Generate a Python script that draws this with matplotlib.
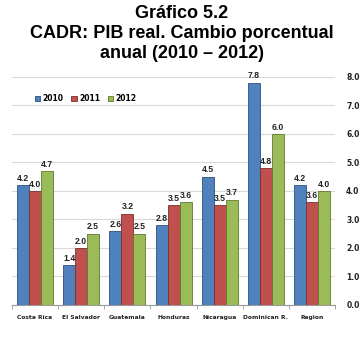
import matplotlib
matplotlib.use("Agg")
import matplotlib.pyplot as plt
import numpy as np

categories = ["Costa Rica", "El Salvador", "Guatemala", "Honduras", "Nicaragua", "Dominican R.", "Region"]
years = ["2010", "2011", "2012"]
v2010 = [4.2, 1.4, 2.6, 2.8, 4.5, 7.8, 4.2]
v2011 = [4.0, 2.0, 3.2, 3.5, 3.5, 4.8, 3.6]
v2012 = [4.7, 2.5, 2.5, 3.6, 3.7, 6.0, 4.0]
colors = ["#4F81BD", "#C0504D", "#9BBB59"]
edges = ["#2F4F7A", "#7A2F2D", "#5E7A2F"]

fig = plt.figure(figsize=(3.63, 3.37), dpi=100)
ax = fig.add_axes([0.033, 0.095, 0.89, 0.6766])

x = np.arange(len(categories))
w = 0.26
for i, (vals, c, e, lab) in enumerate(zip([v2010, v2011, v2012], colors, edges, years)):
    pos = x + (i - 1) * w
    ax.bar(pos, vals, w, color=c, edgecolor=e, linewidth=0.6, label=lab, zorder=3)
    for p, v in zip(pos, vals):
        ax.text(p, v + 0.08, f"{v:.1f}", ha="center", va="bottom", fontsize=6.2,
                fontweight="bold", color="#222222", zorder=4, family="Liberation Sans")

ax.set_ylim(0, 8)
ax.set_xlim(-0.5, len(categories) - 0.5)
ax.set_yticks(np.arange(0, 9, 1))
ax.set_yticklabels([f"{t:.1f}" for t in range(9)], fontsize=5.5, fontweight="bold", color="#222222")
ax.yaxis.tick_right()
ax.tick_params(axis="y", length=0, pad=8)
ax.set_xticks(x)
ax.set_xticklabels(categories, fontsize=4.3, fontweight="bold", color="#222222")
ax.tick_params(axis="x", length=0, pad=7)
ax.set_xticks(np.arange(-0.5, len(categories), 1), minor=True)
ax.tick_params(axis="x", which="minor", length=3, color="#999999")
ax.grid(axis="y", color="#D9D9D9", linewidth=0.8, zorder=0)
for s in ["top", "right", "left"]:
    ax.spines[s].set_visible(False)
ax.spines["bottom"].set_color("#999999")

ax.legend(loc="upper left", bbox_to_anchor=(0.05, 0.955), ncol=3, frameon=False,
          handlelength=0.7, handleheight=0.7, columnspacing=1.0, handletextpad=0.3,
          prop={"weight": "bold", "size": 5.5})

title_kw = dict(ha="center", va="center", fontsize=13, fontweight="bold", family="Liberation Sans")
fig.text(0.5, 0.96, "Gráfico 5.2", **title_kw)
fig.text(0.5, 0.90, "CADR: PIB real. Cambio porcentual", **title_kw)
fig.text(0.5, 0.84, "anual (2010 – 2012)", **title_kw)

fig.savefig("out.png", dpi=100)
